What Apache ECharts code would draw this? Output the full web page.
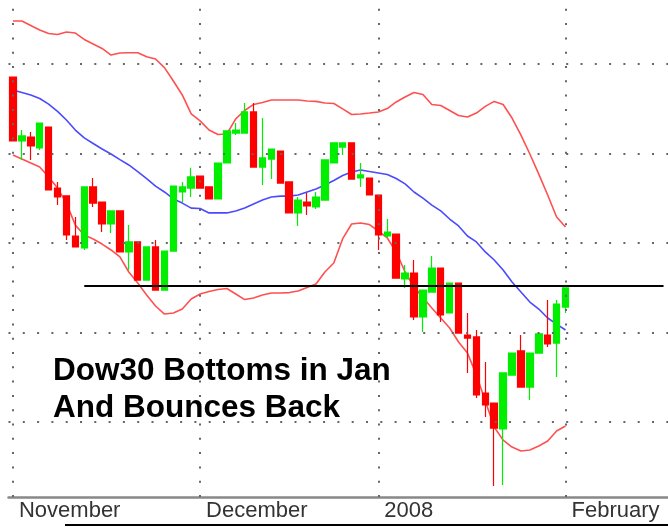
<!DOCTYPE html>
<html><head><meta charset="utf-8">
<script src="https://cdn.jsdelivr.net/npm/echarts@6/dist/echarts.min.js"></script>
<style>html,body{margin:0;padding:0;background:#fff}#c{width:668px;height:527px}</style>
</head><body><div id="c"></div>
<script>
// Trading days (plus empty days to the right edge)
const dates = [
 '2007-11-01','2007-11-02','2007-11-05','2007-11-06','2007-11-07','2007-11-08','2007-11-09','2007-11-12','2007-11-13','2007-11-14',
 '2007-11-15','2007-11-16','2007-11-19','2007-11-20','2007-11-21','2007-11-23','2007-11-26','2007-11-27','2007-11-28','2007-11-29',
 '2007-11-30','2007-12-03','2007-12-04','2007-12-05','2007-12-06','2007-12-07','2007-12-10','2007-12-11','2007-12-12','2007-12-13',
 '2007-12-14','2007-12-17','2007-12-18','2007-12-19','2007-12-20','2007-12-21','2007-12-24','2007-12-26','2007-12-27','2007-12-28',
 '2007-12-31','2008-01-02','2008-01-03','2008-01-04','2008-01-07','2008-01-08','2008-01-09','2008-01-10','2008-01-11','2008-01-14',
 '2008-01-15','2008-01-16','2008-01-17','2008-01-18','2008-01-22','2008-01-23','2008-01-24','2008-01-25','2008-01-28','2008-01-29',
 '2008-01-30','2008-01-31','2008-02-01',
 '2008-02-04','2008-02-05','2008-02-06','2008-02-07','2008-02-08','2008-02-11','2008-02-12','2008-02-13','2008-02-14','2008-02-15','2008-02-19'
];
const monthLabels = {'2007-11-01':'November','2007-12-03':'December','2008-01-02':'2008','2008-02-01':'February'};

const opens = [13927,13570,13592,13531,13648,13307,13263,13039,12972,13313,13229,13106,13179,12950,13006,12793,12978,12737,12955,13285,
 13307,13374,13313,13246,13447,13614,13614,13732,13424,13469,13514,13341,13168,13229,13201,13240,13447,13536,13559,13363,
 13363,13268,13039,13050,12799,12832,12587,12726,12860,12609,12776,12486,12475,12162,12106,11961,12262,12397,12195,12385,
 12486,12441,12642];
const closes = [13570,13598,13542,13670,13296,13257,13045,12978,13313,13223,13106,13179,12950,13006,12793,12978,12737,12955,13318,13313,
 13369,13307,13246,13447,13626,13631,13732,13424,13475,13525,13335,13168,13240,13207,13257,13464,13559,13559,13357,13380,
 13268,13045,13061,12804,12832,12587,12737,12860,12598,12776,12497,12469,12151,12095,11966,12274,12385,12195,12385,12492,
 12436,12659,12749];
const lows = [13570,13464,13464,13520,13296,13212,13017,12978,12961,13201,13061,13056,12950,12849,12793,12793,12737,12737,12955,13229,
 13257,13307,13246,13246,13447,13603,13614,13424,13324,13357,13335,13168,13095,13156,13190,13240,13447,13492,13357,13313,
 13268,12961,13028,12804,12749,12570,12503,12726,12559,12609,12497,12274,12134,12028,11642,11648,12262,12195,12123,12385,
 12419,12251,12609];
const highs = [13927,13631,13620,13670,13648,13341,13263,13145,13313,13363,13229,13179,13179,13100,13006,12978,13017,12955,13318,13341,
 13420,13374,13313,13447,13626,13670,13782,13782,13698,13525,13514,13341,13257,13279,13285,13464,13559,13559,13559,13447,
 13363,13268,13134,13050,12877,12905,12737,12927,12860,12776,12776,12609,12514,12335,12106,12274,12385,12486,12385,12492,
 12681,12681,12749];

const upperBand = [14240,14240,14215,14190,14170,14165,14179,14173,14137,14112,14087,14050,14061,14063,14063,14041,14028,13980,13905,13827,
 13721,13682,13631,13606,13609,13693,13740,13774,13785,13799,13799,13799,13799,13793,13791,13782,13779,13749,13718,13721,
 13726,13732,13751,13788,13816,13841,13830,13774,13768,13740,13712,13704,13726,13763,13791,13774,13698,13603,13497,13385,
 13268,13145,13089];
const middleBand = [13855,13841,13827,13807,13776,13735,13687,13631,13587,13556,13525,13497,13466,13436,13399,13360,13318,13285,13246,13223,
 13195,13193,13168,13168,13168,13179,13195,13218,13240,13257,13262,13262,13268,13285,13302,13324,13349,13377,13397,13408,
 13399,13391,13383,13360,13330,13285,13251,13212,13179,13134,13095,13039,13006,12950,12905,12849,12782,12726,12670,12631,
 12581,12547,12514];
const lowerBand = [13492,13469,13447,13425,13369,13307,13223,13100,13045,13022,12994,12961,12922,12838,12776,12709,12648,12603,12609,12631,
 12687,12715,12729,12740,12746,12715,12684,12693,12709,12721,12721,12723,12732,12751,12771,12838,12888,13024,13106,13112,
 13103,13067,13028,12950,12838,12754,12696,12637,12581,12525,12447,12385,12263,12117,11972,11899,11860,11838,11844,11866,
 11894,11950,11978];

const gridLevels = [12000, 12500, 13000, 13500, 14000];
const supportLevel = 12762;
const supportStart = '2007-11-13';

const candles = opens.map((o, i) => [o, closes[i], lows[i], highs[i]]);
const dotted = {color: '#666', width: 2, type: [2, 12.3]};
const monthStarts = Object.keys(monthLabels);

const chart = echarts.init(document.getElementById('c'), null, {renderer: 'canvas'});
chart.setOption({
  animation: false,
  backgroundColor: '#fff',
  title: {
    text: 'Dow30 Bottoms in Jan\nAnd Bounces Back',
    left: 48, top: 348,
    textStyle: {fontFamily: 'Liberation Sans, Arial', fontWeight: 'bold', fontSize: 31.5, lineHeight: 37, color: '#000'}
  },
  grid: {left: 8.5, right: -4.3, top: 0, bottom: 30},
  xAxis: {
    type: 'category', data: dates, boundaryGap: true,
    axisLine: {lineStyle: {color: '#888', width: 2.5}},
    axisTick: {alignWithLabel: true, interval: (i, v) => v in monthLabels, length: 8, lineStyle: {color: '#222', width: 1.5}},
    axisLabel: {interval: (i, v) => v in monthLabels, formatter: v => monthLabels[v] || '', align: 'left', margin: 3,
      padding: [0, 0, 0, 6], fontFamily: 'Liberation Sans, Arial', fontSize: 22, color: '#333'},
    splitLine: {show: false}
  },
  yAxis: {type: 'value', min: 11581, max: 14357.5, show: false, splitLine: {show: false}},
  series: [
    {type: 'line', data: [], z: 1, silent: true,
     markLine: {silent: true, symbol: 'none', label: {show: false}, lineStyle: dotted, animation: false,
       data: gridLevels.map(v => ({yAxis: v})).concat(monthStarts.map(d => ({xAxis: d})))}},
    {type: 'line', data: upperBand, symbol: 'none', z: 2, lineStyle: {color: '#ff5050', width: 1.6}},
    {type: 'line', data: middleBand, symbol: 'none', z: 2, lineStyle: {color: '#4a4aff', width: 1.6}},
    {type: 'line', data: lowerBand, symbol: 'none', z: 2, lineStyle: {color: '#ff5050', width: 1.6}},
    {type: 'candlestick', data: candles, z: 3, barWidth: 7,
     itemStyle: {color: '#00ee00', color0: '#ff0000', borderColor: '#00ee00', borderColor0: '#ff0000', borderWidth: 1.2},
     markLine: {silent: true, symbol: 'none', label: {show: false}, animation: false,
       lineStyle: {color: '#000', width: 2, type: 'solid'},
       data: [[{coord: [supportStart, supportLevel]}, {coord: [dates[dates.length - 1], supportLevel]}]]}}
  ],
  graphic: [{type: 'line', shape: {x1: 65, y1: 525, x2: 668, y2: 525}, style: {stroke: '#000', lineWidth: 2}}]
});
</script></body></html>
